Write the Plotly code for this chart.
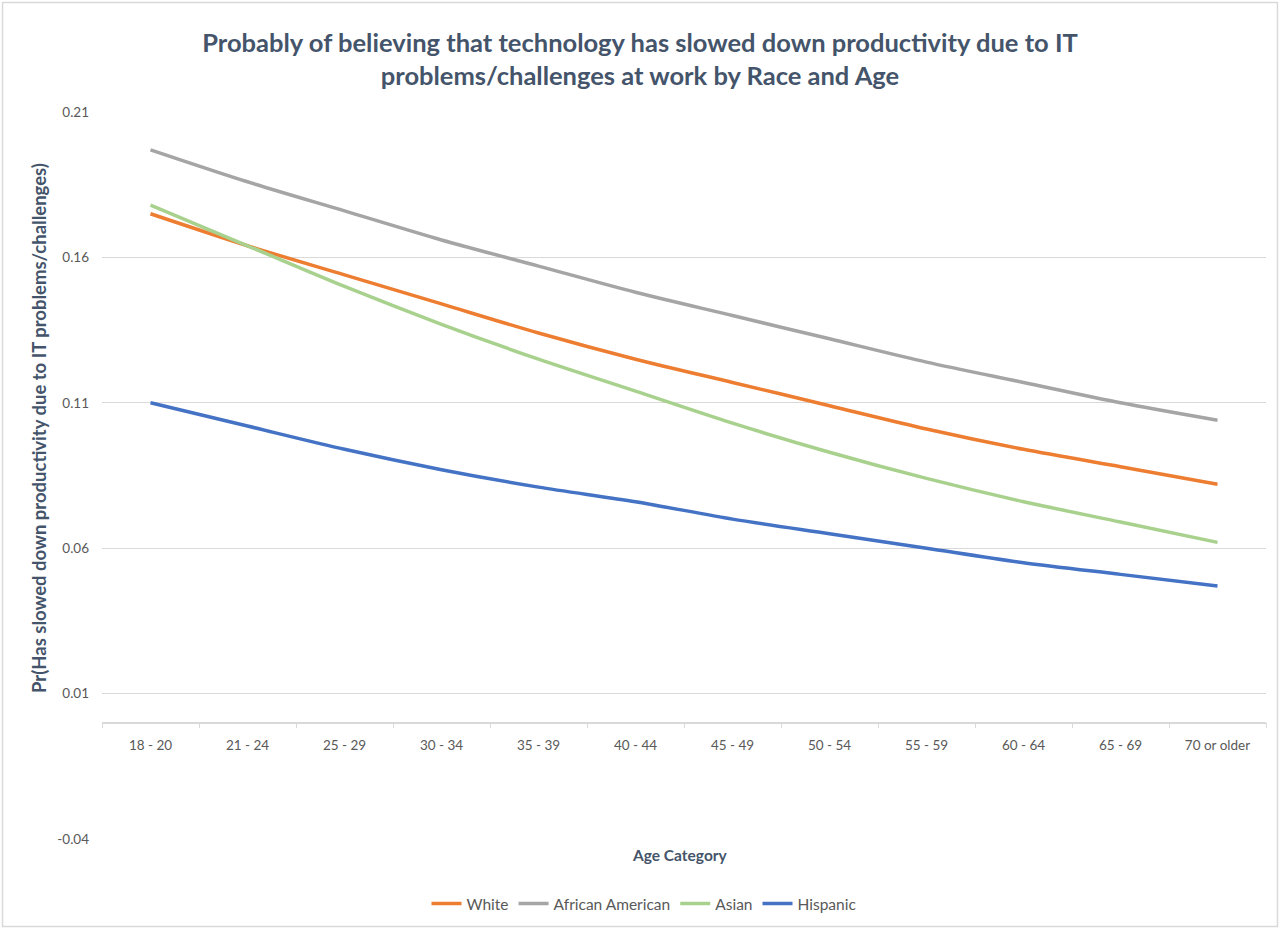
import plotly.graph_objects as go

# Age groups on the category axis
age_groups = ["18 - 20", "21 - 24", "25 - 29", "30 - 34", "35 - 39", "40 - 44",
              "45 - 49", "50 - 54", "55 - 59", "60 - 64", "65 - 69", "70 or older"]

# Predicted probabilities by race
white = [0.175, 0.164, 0.154, 0.144, 0.134, 0.125, 0.117, 0.109, 0.101, 0.094, 0.088, 0.082]
african_american = [0.197, 0.186, 0.176, 0.166, 0.157, 0.148, 0.140, 0.132, 0.124, 0.117, 0.110, 0.104]
asian = [0.178, 0.164, 0.150, 0.137, 0.125, 0.114, 0.103, 0.093, 0.084, 0.076, 0.069, 0.062]
hispanic = [0.110, 0.102, 0.094, 0.087, 0.081, 0.076, 0.070, 0.065, 0.060, 0.055, 0.051, 0.047]

y_ticks = [-0.04, 0.01, 0.06, 0.11, 0.16, 0.21]
y_tick_labels = ["-0.04", "0.01", "0.06", "0.11", "0.16", "0.21"]

series = [
    ("White", white, "#ED7D31"),
    ("African American", african_american, "#A5A5A5"),
    ("Asian", asian, "#A9D18E"),
    ("Hispanic", hispanic, "#4472C4"),
]

W, H = 1280, 930
ML, MR, MT, MB = 102, 14, 112, 91
PW, PH = W - ML - MR, H - MT - MB


def px_x(px):
    return (px - ML) / PW


def px_y(py):
    return (H - MB - py) / PH


FONT = "Lato, 'Open Sans', sans-serif"
TEXT = "#595959"
HEAD = "#44546A"
GRID = "#D9D9D9"

fig = go.Figure()
for name, vals, color in series:
    fig.add_trace(go.Scatter(
        x=age_groups, y=vals, name=name, mode="lines",
        line=dict(color=color, width=3.5, shape="spline", smoothing=0.8),
    ))

y_min, y_max = -0.04, 0.21

fig.update_layout(
    width=W, height=H,
    margin=dict(l=ML, r=MR, t=MT, b=MB, autoexpand=False),
    paper_bgcolor="white", plot_bgcolor="white",
    font=dict(family=FONT, size=13, color=TEXT),
    title=dict(
        text="Probably of believing that technology has slowed down productivity due to IT<br>"
             "problems/challenges at work by Race and Age",
        x=0.5, xanchor="center", xref="container",
        y=1 - 52 / H, yanchor="middle", yref="container",
        font=dict(family=FONT, size=25.5, color=HEAD, weight="bold"),
    ),
    xaxis=dict(
        type="category", range=[-0.5, len(age_groups) - 0.5],
        anchor="free", position=(0 - y_min) / (y_max - y_min),
        showline=True, linecolor=GRID, linewidth=1.5,
        ticks="outside", tickson="boundaries", ticklen=5, tickcolor=GRID,
        showgrid=False, zeroline=False,
        tickfont=dict(family=FONT, size=13.5, color=TEXT),
        ticklabelstandoff=10,
    ),
    yaxis=dict(
        range=[y_min, y_max], tickvals=y_ticks, ticktext=y_tick_labels,
        showgrid=True, gridcolor=GRID, gridwidth=1,
        zeroline=False, showline=False, ticks="",
        tickfont=dict(family=FONT, size=13.5, color=TEXT),
        ticklabelstandoff=12,
    ),
    legend=dict(
        orientation="h", x=px_x(644), xanchor="center",
        y=px_y(904), yanchor="middle",
        font=dict(family=FONT, size=15.5, color=TEXT),
        itemwidth=30, tracegroupgap=0,
    ),
    showlegend=True,
)

# Axis titles
fig.add_annotation(
    text="<b>Pr(Has slowed down productivity due to IT problems/challenges)</b>",
    x=px_x(39), y=px_y(428), xref="paper", yref="paper",
    textangle=-90, showarrow=False, xanchor="center", yanchor="middle",
    font=dict(family=FONT, size=18.5, color=HEAD),
)
fig.add_annotation(
    text="<b>Age Category</b>",
    x=px_x(680), y=px_y(855), xref="paper", yref="paper",
    showarrow=False, xanchor="center", yanchor="middle",
    font=dict(family=FONT, size=15.5, color=HEAD),
)

# Chart frame
fig.add_shape(
    type="rect", xref="paper", yref="paper",
    x0=px_x(2.5), x1=px_x(1277.5), y0=px_y(926.5), y1=px_y(2.5),
    line=dict(color=GRID, width=1.5), fillcolor="rgba(0,0,0,0)", layer="below",
)

fig.write_html("out.html")
